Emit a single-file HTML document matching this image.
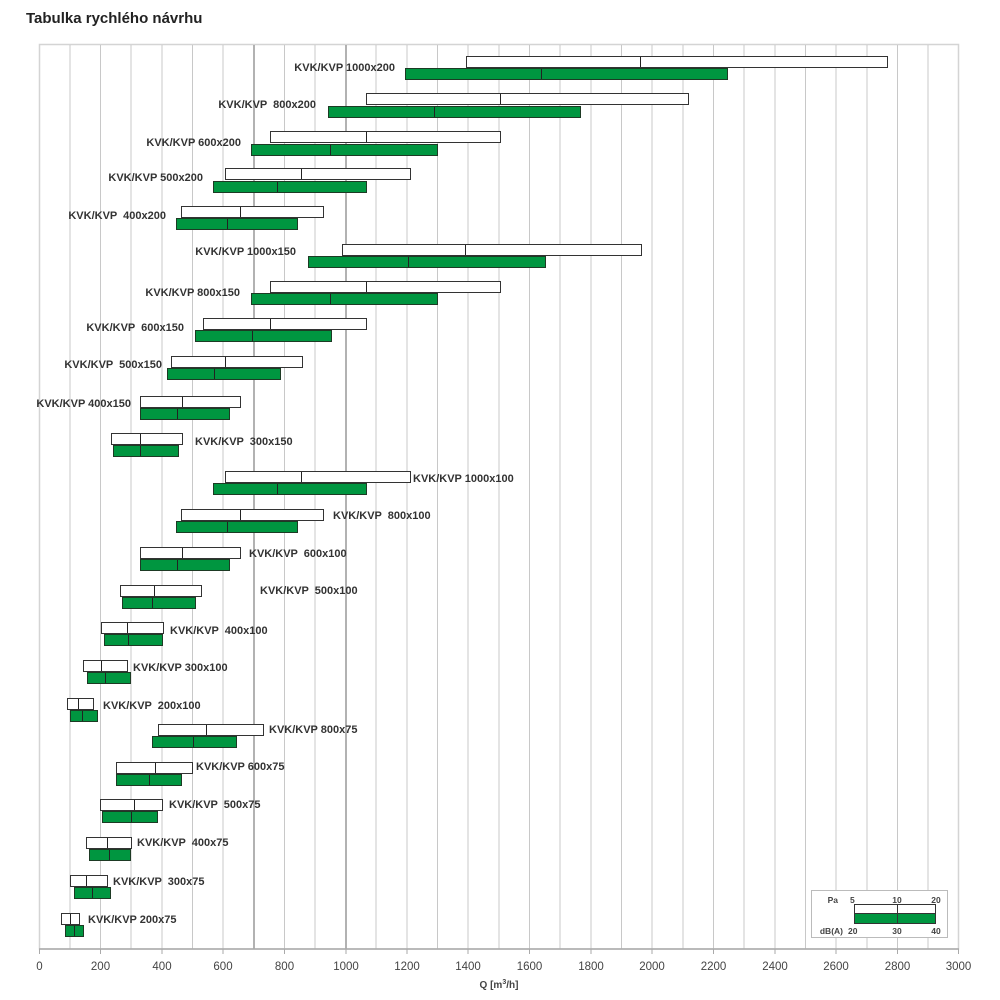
<!DOCTYPE html>
<html><head><meta charset="utf-8"><style>
html,body{margin:0;padding:0;background:#fff}
svg{display:block}
text{font-family:"Liberation Sans",Arial,sans-serif;}
.l{font-size:11px;font-weight:bold;fill:#333;white-space:pre}
.t{font-size:11.5px;fill:#444}
.w{fill:#fff;stroke:#333;stroke-width:1}
.g{fill:#009640;stroke:#1d3a24;stroke-width:1}
.d{stroke:#222;stroke-width:1}
</style></head><body>
<svg width="1000" height="1000" viewBox="0 0 1000 1000" xmlns="http://www.w3.org/2000/svg" xml:space="preserve">
<text x="26" y="23" style="font-size:15px;font-weight:bold;fill:#222">Tabulka rychlého návrhu</text>
<rect x="39.5" y="44.5" width="919" height="904.5" fill="#fff" stroke="#d4d4d4" stroke-width="1.5"/>
<g stroke="#c8c8c8" stroke-width="1">
<line x1="70" y1="45" x2="70" y2="949"/><line x1="100.5" y1="45" x2="100.5" y2="949"/><line x1="131" y1="45" x2="131" y2="949"/><line x1="162" y1="45" x2="162" y2="949"/><line x1="192.5" y1="45" x2="192.5" y2="949"/><line x1="223" y1="45" x2="223" y2="949"/><line x1="284.5" y1="45" x2="284.5" y2="949"/><line x1="315" y1="45" x2="315" y2="949"/><line x1="376" y1="45" x2="376" y2="949"/><line x1="407" y1="45" x2="407" y2="949"/><line x1="437.5" y1="45" x2="437.5" y2="949"/><line x1="468" y1="45" x2="468" y2="949"/><line x1="499" y1="45" x2="499" y2="949"/><line x1="529.5" y1="45" x2="529.5" y2="949"/><line x1="560" y1="45" x2="560" y2="949"/><line x1="591" y1="45" x2="591" y2="949"/><line x1="621.5" y1="45" x2="621.5" y2="949"/><line x1="652" y1="45" x2="652" y2="949"/><line x1="683" y1="45" x2="683" y2="949"/><line x1="713.5" y1="45" x2="713.5" y2="949"/><line x1="744" y1="45" x2="744" y2="949"/><line x1="775" y1="45" x2="775" y2="949"/><line x1="805.5" y1="45" x2="805.5" y2="949"/><line x1="836" y1="45" x2="836" y2="949"/><line x1="867" y1="45" x2="867" y2="949"/><line x1="897.5" y1="45" x2="897.5" y2="949"/><line x1="928" y1="45" x2="928" y2="949"/>
</g>
<g stroke="#999" stroke-width="1.5"><line x1="254" y1="45" x2="254" y2="949"/><line x1="346" y1="45" x2="346" y2="949"/></g>
<line x1="39" y1="949" x2="959" y2="949" stroke="#aaa" stroke-width="1.5"/>
<g stroke="#aaa"><line x1="39.5" y1="949" x2="39.5" y2="954"/><line x1="100.5" y1="949" x2="100.5" y2="954"/><line x1="162" y1="949" x2="162" y2="954"/><line x1="223" y1="949" x2="223" y2="954"/><line x1="284.5" y1="949" x2="284.5" y2="954"/><line x1="346" y1="949" x2="346" y2="954"/><line x1="407" y1="949" x2="407" y2="954"/><line x1="468" y1="949" x2="468" y2="954"/><line x1="529.5" y1="949" x2="529.5" y2="954"/><line x1="591" y1="949" x2="591" y2="954"/><line x1="652" y1="949" x2="652" y2="954"/><line x1="713.5" y1="949" x2="713.5" y2="954"/><line x1="775" y1="949" x2="775" y2="954"/><line x1="836" y1="949" x2="836" y2="954"/><line x1="897.5" y1="949" x2="897.5" y2="954"/><line x1="958.5" y1="949" x2="958.5" y2="954"/></g>
<g class="t" text-anchor="middle">
<text x="39.5" y="970">0</text><text x="100.5" y="970">200</text><text x="162" y="970">400</text><text x="223" y="970">600</text><text x="284.5" y="970">800</text><text x="346" y="970">1000</text><text x="407" y="970">1200</text><text x="468" y="970">1400</text><text x="529.5" y="970">1600</text><text x="591" y="970">1800</text><text x="652" y="970">2000</text><text x="713.5" y="970">2200</text><text x="775" y="970">2400</text><text x="836" y="970">2600</text><text x="897.5" y="970">2800</text><text x="958.5" y="970">3000</text>
</g>
<text x="499" y="988" text-anchor="middle" style="font-size:10px;font-weight:bold;fill:#444">Q [m<tspan dy="-4" style="font-size:7px">3</tspan><tspan dy="4">/h]</tspan></text>

<g>
<rect class="w" x="466.5" y="56.5" width="421" height="11"/><line class="d" x1="640.5" y1="57" x2="640.5" y2="67"/>
<rect class="g" x="405.5" y="68.5" width="322" height="11"/><line class="d" x1="541.5" y1="69" x2="541.5" y2="79"/>
<text class="l" x="395" y="71" text-anchor="end">KVK/KVP 1000x200</text>

<rect class="w" x="366.5" y="93.5" width="322" height="11"/><line class="d" x1="500.5" y1="94" x2="500.5" y2="104"/>
<rect class="g" x="328.5" y="106.5" width="252" height="11"/><line class="d" x1="434.5" y1="107" x2="434.5" y2="117"/>
<text class="l" x="316" y="108" text-anchor="end">KVK/KVP  800x200</text>

<rect class="w" x="270.5" y="131.5" width="230" height="11"/><line class="d" x1="366.5" y1="132" x2="366.5" y2="142"/>
<rect class="g" x="251.5" y="144.5" width="186" height="11"/><line class="d" x1="330.5" y1="145" x2="330.5" y2="155"/>
<text class="l" x="241" y="146" text-anchor="end">KVK/KVP 600x200</text>

<rect class="w" x="225.5" y="168.5" width="185" height="11"/><line class="d" x1="301.5" y1="169" x2="301.5" y2="179"/>
<rect class="g" x="213.5" y="181.5" width="153" height="11"/><line class="d" x1="277.5" y1="182" x2="277.5" y2="192"/>
<text class="l" x="203" y="181" text-anchor="end">KVK/KVP 500x200</text>

<rect class="w" x="181.5" y="206.5" width="142" height="11"/><line class="d" x1="240.5" y1="207" x2="240.5" y2="217"/>
<rect class="g" x="176.5" y="218.5" width="121" height="11"/><line class="d" x1="227.5" y1="219" x2="227.5" y2="229"/>
<text class="l" x="166" y="219" text-anchor="end">KVK/KVP  400x200</text>

<rect class="w" x="342.5" y="244.5" width="299" height="11"/><line class="d" x1="465.5" y1="245" x2="465.5" y2="255"/>
<rect class="g" x="308.5" y="256.5" width="237" height="11"/><line class="d" x1="408.5" y1="257" x2="408.5" y2="267"/>
<text class="l" x="296" y="255" text-anchor="end">KVK/KVP 1000x150</text>

<rect class="w" x="270.5" y="281.5" width="230" height="11"/><line class="d" x1="366.5" y1="282" x2="366.5" y2="292"/>
<rect class="g" x="251.5" y="293.5" width="186" height="11"/><line class="d" x1="330.5" y1="294" x2="330.5" y2="304"/>
<text class="l" x="240" y="296" text-anchor="end">KVK/KVP 800x150</text>

<rect class="w" x="203.5" y="318.5" width="163" height="11"/><line class="d" x1="270.5" y1="319" x2="270.5" y2="329"/>
<rect class="g" x="195.5" y="330.5" width="136" height="11"/><line class="d" x1="252.5" y1="331" x2="252.5" y2="341"/>
<text class="l" x="184" y="331" text-anchor="end">KVK/KVP  600x150</text>

<rect class="w" x="171.5" y="356.5" width="131" height="11"/><line class="d" x1="225.5" y1="357" x2="225.5" y2="367"/>
<rect class="g" x="167.5" y="368.5" width="113" height="11"/><line class="d" x1="214.5" y1="369" x2="214.5" y2="379"/>
<text class="l" x="162" y="368" text-anchor="end">KVK/KVP  500x150</text>

<rect class="w" x="140.5" y="396.5" width="100" height="11"/><line class="d" x1="182.5" y1="397" x2="182.5" y2="407"/>
<rect class="g" x="140.5" y="408.5" width="89" height="11"/><line class="d" x1="177.5" y1="409" x2="177.5" y2="419"/>
<text class="l" x="131" y="407" text-anchor="end">KVK/KVP 400x150</text>

<rect class="w" x="111.5" y="433.5" width="71" height="11"/><line class="d" x1="140.5" y1="434" x2="140.5" y2="444"/>
<rect class="g" x="113.5" y="445.5" width="65" height="11"/><line class="d" x1="140.5" y1="446" x2="140.5" y2="456"/>
<text class="l" x="195" y="445">KVK/KVP  300x150</text>

<rect class="w" x="225.5" y="471.5" width="185" height="11"/><line class="d" x1="301.5" y1="472" x2="301.5" y2="482"/>
<rect class="g" x="213.5" y="483.5" width="153" height="11"/><line class="d" x1="277.5" y1="484" x2="277.5" y2="494"/>
<text class="l" x="413" y="482">KVK/KVP 1000x100</text>

<rect class="w" x="181.5" y="509.5" width="142" height="11"/><line class="d" x1="240.5" y1="510" x2="240.5" y2="520"/>
<rect class="g" x="176.5" y="521.5" width="121" height="11"/><line class="d" x1="227.5" y1="522" x2="227.5" y2="532"/>
<text class="l" x="333" y="519">KVK/KVP  800x100</text>

<rect class="w" x="140.5" y="547.5" width="100" height="11"/><line class="d" x1="182.5" y1="548" x2="182.5" y2="558"/>
<rect class="g" x="140.5" y="559.5" width="89" height="11"/><line class="d" x1="177.5" y1="560" x2="177.5" y2="570"/>
<text class="l" x="249" y="557">KVK/KVP  600x100</text>

<rect class="w" x="120.5" y="585.5" width="81" height="11"/><line class="d" x1="154.5" y1="586" x2="154.5" y2="596"/>
<rect class="g" x="122.5" y="597.5" width="73" height="11"/><line class="d" x1="152.5" y1="598" x2="152.5" y2="608"/>
<text class="l" x="260" y="594">KVK/KVP  500x100</text>

<rect class="w" x="101.5" y="622.5" width="62" height="11"/><line class="d" x1="127.5" y1="623" x2="127.5" y2="633"/>
<rect class="g" x="104.5" y="634.5" width="58" height="11"/><line class="d" x1="128.5" y1="635" x2="128.5" y2="645"/>
<text class="l" x="170" y="634">KVK/KVP  400x100</text>

<rect class="w" x="83.5" y="660.5" width="44" height="11"/><line class="d" x1="101.5" y1="661" x2="101.5" y2="671"/>
<rect class="g" x="87.5" y="672.5" width="43" height="11"/><line class="d" x1="105.5" y1="673" x2="105.5" y2="683"/>
<text class="l" x="133" y="671">KVK/KVP 300x100</text>

<rect class="w" x="67.5" y="698.5" width="26" height="11"/><line class="d" x1="78.5" y1="699" x2="78.5" y2="709"/>
<rect class="g" x="70.5" y="710.5" width="27" height="11"/><line class="d" x1="82.5" y1="711" x2="82.5" y2="721"/>
<text class="l" x="103" y="709">KVK/KVP  200x100</text>

<rect class="w" x="158.5" y="724.5" width="105" height="11"/><line class="d" x1="206.5" y1="725" x2="206.5" y2="735"/>
<rect class="g" x="152.5" y="736.5" width="84" height="11"/><line class="d" x1="193.5" y1="737" x2="193.5" y2="747"/>
<text class="l" x="269" y="733">KVK/KVP 800x75</text>

<rect class="w" x="116.5" y="762.5" width="76" height="11"/><line class="d" x1="155.5" y1="763" x2="155.5" y2="773"/>
<rect class="g" x="116.5" y="774.5" width="65" height="11"/><line class="d" x1="149.5" y1="775" x2="149.5" y2="785"/>
<text class="l" x="196" y="770">KVK/KVP 600x75</text>

<rect class="w" x="100.5" y="799.5" width="62" height="11"/><line class="d" x1="134.5" y1="800" x2="134.5" y2="810"/>
<rect class="g" x="102.5" y="811.5" width="55" height="11"/><line class="d" x1="131.5" y1="812" x2="131.5" y2="822"/>
<text class="l" x="169" y="808">KVK/KVP  500x75</text>

<rect class="w" x="86.5" y="837.5" width="45" height="11"/><line class="d" x1="107.5" y1="838" x2="107.5" y2="848"/>
<rect class="g" x="89.5" y="849.5" width="41" height="11"/><line class="d" x1="109.5" y1="850" x2="109.5" y2="860"/>
<text class="l" x="137" y="846">KVK/KVP  400x75</text>

<rect class="w" x="70.5" y="875.5" width="37" height="11"/><line class="d" x1="86.5" y1="876" x2="86.5" y2="886"/>
<rect class="g" x="74.5" y="887.5" width="36" height="11"/><line class="d" x1="92.5" y1="888" x2="92.5" y2="898"/>
<text class="l" x="113" y="885">KVK/KVP  300x75</text>

<rect class="w" x="61.5" y="913.5" width="18" height="11"/><line class="d" x1="70.5" y1="914" x2="70.5" y2="924"/>
<rect class="g" x="65.5" y="925.5" width="18" height="11"/><line class="d" x1="74.5" y1="926" x2="74.5" y2="936"/>
<text class="l" x="88" y="923">KVK/KVP 200x75</text>
</g>

<rect x="811.5" y="890.5" width="136" height="47" fill="#fff" stroke="#bbb"/>
<rect x="854.5" y="904.5" width="81" height="9" fill="#fff" stroke="#333"/>
<rect x="854.5" y="913.5" width="81" height="10" fill="#009640" stroke="#333"/>
<line x1="897.5" y1="905" x2="897.5" y2="923" stroke="#333"/>
<g style="font-size:8.5px;font-weight:bold;fill:#444">
<text x="838" y="903" text-anchor="end">Pa</text><text x="850" y="903">5</text><text x="897" y="903" text-anchor="middle">10</text><text x="936" y="903" text-anchor="middle">20</text>
<text x="843" y="934" text-anchor="end">dB(A)</text><text x="848" y="934">20</text><text x="897" y="934" text-anchor="middle">30</text><text x="936" y="934" text-anchor="middle">40</text>
</g>
</svg>
</body></html>
